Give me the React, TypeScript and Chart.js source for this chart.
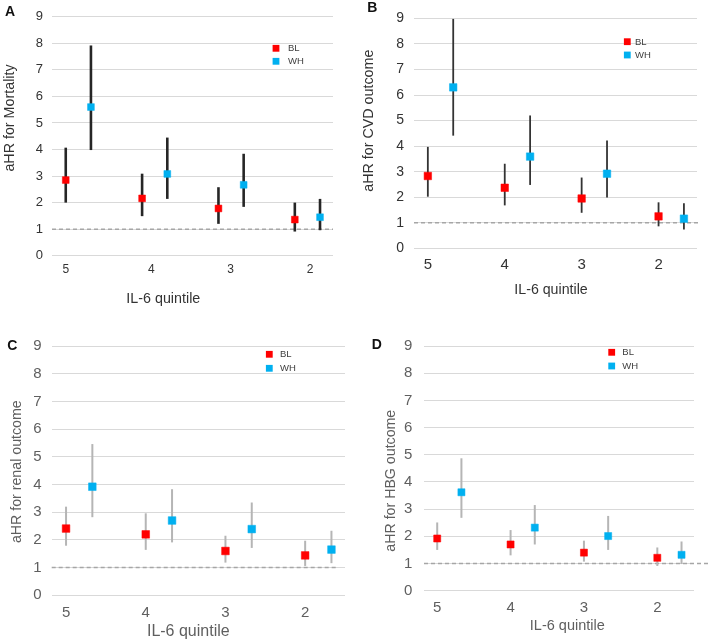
import React, { useEffect, useRef } from "react";
import { Chart, registerables } from "chart.js";

Chart.register(...registerables);

// ---------- data ----------
const quintileLabels = ["5", "4", "3", "2"];
const seriesNames = ["BL", "WH"];
const yMin = 0;
const yMax = 9;
const referenceHR = 1;
const whOffset = 0.33;

// Panel A – mortality
const mortBL = [2.85, 2.16, 1.78, 1.36];
const mortBLLow = [2.0, 1.49, 1.2, 0.91];
const mortBLHigh = [4.07, 3.09, 2.58, 2.0];
const mortWH = [5.6, 3.08, 2.67, 1.45];
const mortWHLow = [3.98, 2.14, 1.84, 0.96];
const mortWHHigh = [7.92, 4.45, 3.84, 2.14];

// Panel B – CVD outcome
const cvdBL = [2.83, 2.37, 1.95, 1.25];
const cvdBLLow = [2.02, 1.68, 1.39, 0.86];
const cvdBLHigh = [3.97, 3.31, 2.77, 1.8];
const cvdWH = [6.3, 3.59, 2.92, 1.16];
const cvdWHLow = [4.41, 2.48, 1.99, 0.74];
const cvdWHHigh = [8.98, 5.2, 4.22, 1.76];

// Panel C – renal outcome
const renalBL = [2.41, 2.2, 1.6, 1.44];
const renalBLLow = [1.79, 1.64, 1.18, 1.06];
const renalBLHigh = [3.2, 2.96, 2.15, 1.97];
const renalWH = [3.92, 2.7, 2.39, 1.65];
const renalWHLow = [2.82, 1.91, 1.71, 1.16];
const renalWHHigh = [5.46, 3.83, 3.35, 2.33];

// Panel D – HBG outcome
const hbgBL = [1.92, 1.7, 1.4, 1.21];
const hbgBLLow = [1.5, 1.3, 1.07, 0.91];
const hbgBLHigh = [2.51, 2.23, 1.84, 1.59];
const hbgWH = [3.62, 2.32, 2.01, 1.32];
const hbgWHLow = [2.68, 1.7, 1.5, 0.98];
const hbgWHHigh = [4.87, 3.15, 2.75, 1.81];

// tick positions of the quintile labels (category units)
const tickPosA = [0, 1.12, 2.16, 3.2];
const tickPosStd = [0, 1, 2, 3];

// ---------- styling / layout ----------
const RED = "#ff0000";
const BLUE = "#00b0f0";
const FONT = "'Liberation Sans', Arial, Helvetica, sans-serif";

type PanelCfg = {
  letter: string;
  yTitle: string;
  bl: number[]; blLow: number[]; blHigh: number[];
  wh: number[]; whLow: number[]; whHigh: number[];
  tickPos: number[];
  x: number; y: number; w: number; h: number;
  area: { l: number; r: number; t: number; b: number };
  refEnd: number;
  markR: number;
  errColor: string; errWidth: number;
  textColor: string;
  yTickSize: number; yTickPad: number;
  xTickSize: number; xTickPad: number;
  yTitlePos: [number, number]; yTitleSize: number;
  xTitlePos: [number, number]; xTitleSize: number;
  letterPos: [number, number];
  legend: { x: number; y1: number; y2: number; tx: number };
};

const panels: PanelCfg[] = [
  {
    letter: "A", yTitle: "aHR for Mortality",
    bl: mortBL, blLow: mortBLLow, blHigh: mortBLHigh,
    wh: mortWH, whLow: mortWHLow, whHigh: mortWHHigh,
    tickPos: tickPosA,
    x: 0, y: 0, w: 354, h: 320,
    area: { l: 52, r: 333, t: 9.3, b: 255.7 },
    refEnd: 333, markR: 4.8,
    errColor: "#262626", errWidth: 2.6,
    textColor: "#333333",
    yTickSize: 13, yTickPad: 9, xTickSize: 12, xTickPad: 6.8,
    yTitlePos: [10, 118], yTitleSize: 14.3,
    xTitlePos: [163.3, 299], xTitleSize: 14.3,
    letterPos: [10, 11.7],
    legend: { x: 276, y1: 48.3, y2: 61.3, tx: 288 },
  },
  {
    letter: "B", yTitle: "aHR for CVD outcome",
    bl: cvdBL, blLow: cvdBLLow, blHigh: cvdBLHigh,
    wh: cvdWH, whLow: cvdWHLow, whHigh: cvdWHHigh,
    tickPos: tickPosStd,
    x: 354, y: 0, w: 355, h: 320,
    area: { l: 60, r: 343, t: 10, b: 248.3 },
    refEnd: 347, markR: 5.3,
    errColor: "#333333", errWidth: 1.8,
    textColor: "#333333",
    yTickSize: 14, yTickPad: 10, xTickSize: 15, xTickPad: 8,
    yTitlePos: [15, 120.7], yTitleSize: 14.3,
    xTitlePos: [197, 290], xTitleSize: 14.2,
    letterPos: [18.3, 8.3],
    legend: { x: 273.3, y1: 41.7, y2: 55, tx: 281 },
  },
  {
    letter: "C", yTitle: "aHR for renal outcome",
    bl: renalBL, blLow: renalBLLow, blHigh: renalBLHigh,
    wh: renalWH, whLow: renalWHLow, whHigh: renalWHHigh,
    tickPos: tickPosStd,
    x: 0, y: 320, w: 354, h: 320,
    area: { l: 51.7, r: 345, t: 26, b: 275.3 },
    refEnd: 338, markR: 5.4,
    errColor: "#b5b5b5", errWidth: 2,
    textColor: "#5f5f5f",
    yTickSize: 15, yTickPad: 10, xTickSize: 15, xTickPad: 9,
    yTitlePos: [16.7, 151.7], yTitleSize: 14.2,
    xTitlePos: [188.3, 311.7], xTitleSize: 16,
    letterPos: [12.3, 26],
    legend: { x: 269.3, y1: 34.3, y2: 48.3, tx: 280 },
  },
  {
    letter: "D", yTitle: "aHR for HBG outcome",
    bl: hbgBL, blLow: hbgBLLow, blHigh: hbgBLHigh,
    wh: hbgWH, whLow: hbgWHLow, whHigh: hbgWHHigh,
    tickPos: tickPosStd,
    x: 354, y: 320, w: 355, h: 320,
    area: { l: 70, r: 340, t: 26, b: 270.7 },
    refEnd: 355, markR: 5,
    errColor: "#b5b5b5", errWidth: 2,
    textColor: "#5f5f5f",
    yTickSize: 15, yTickPad: 11.7, xTickSize: 15, xTickPad: 8.6,
    yTitlePos: [36.7, 160.7], yTitleSize: 14.2,
    xTitlePos: [213.3, 306], xTitleSize: 14.5,
    letterPos: [22.7, 25],
    legend: { x: 257.7, y1: 32.3, y2: 46, tx: 268.3 },
  },
];

function Panel({ cfg }: { cfg: PanelCfg }) {
  const ref = useRef<HTMLCanvasElement>(null);

  useEffect(() => {
    const canvas = ref.current;
    if (!canvas) return;

    const pts = (vals: number[], off: number) => vals.map((v, i) => ({ x: i + off, y: v }));
    const lows = [cfg.blLow, cfg.whLow];
    const highs = [cfg.blHigh, cfg.whHigh];

    const overlay = {
      id: "overlay" + cfg.letter,
      beforeDatasetsDraw(chart: any) {
        const ctx = chart.ctx;
        const xs = chart.scales.x;
        const ys = chart.scales.y;
        ctx.save();
        // reference line at HR = 1
        ctx.strokeStyle = "#a6a6a6";
        ctx.lineWidth = 1.5;
        ctx.setLineDash([4, 3]);
        const yr = ys.getPixelForValue(referenceHR);
        ctx.beginPath();
        ctx.moveTo(chart.chartArea.left, yr);
        ctx.lineTo(cfg.refEnd, yr);
        ctx.stroke();
        ctx.setLineDash([]);
        // error bars
        ctx.strokeStyle = cfg.errColor;
        ctx.lineWidth = cfg.errWidth;
        chart.data.datasets.forEach((ds: any, di: number) => {
          ds.data.forEach((p: any, i: number) => {
            const px = xs.getPixelForValue(p.x);
            ctx.beginPath();
            ctx.moveTo(px, ys.getPixelForValue(lows[di][i]));
            ctx.lineTo(px, ys.getPixelForValue(highs[di][i]));
            ctx.stroke();
          });
        });
        ctx.restore();
      },
      afterDraw(chart: any) {
        const ctx = chart.ctx;
        ctx.save();
        ctx.fillStyle = cfg.textColor;
        ctx.textAlign = "center";
        ctx.textBaseline = "middle";
        // x-axis title
        ctx.font = `${cfg.xTitleSize}px ${FONT}`;
        ctx.fillText("IL-6 quintile", cfg.xTitlePos[0], cfg.xTitlePos[1]);
        // y-axis title
        ctx.save();
        ctx.translate(cfg.yTitlePos[0], cfg.yTitlePos[1]);
        ctx.rotate(-Math.PI / 2);
        ctx.font = `${cfg.yTitleSize}px ${FONT}`;
        ctx.fillText(cfg.yTitle, 0, 0);
        ctx.restore();
        // panel letter
        ctx.fillStyle = "#111111";
        ctx.font = `bold 14px ${FONT}`;
        ctx.fillText(cfg.letter, cfg.letterPos[0], cfg.letterPos[1]);
        // legend
        const lg = cfg.legend;
        const ys = [lg.y1, lg.y2];
        chart.data.datasets.forEach((ds: any, di: number) => {
          ctx.fillStyle = ds.backgroundColor;
          ctx.fillRect(lg.x - 3.4, ys[di] - 3.4, 6.8, 6.8);
          ctx.fillStyle = "#404040";
          ctx.textAlign = "left";
          ctx.font = `9.5px ${FONT}`;
          ctx.fillText(ds.label, lg.tx, ys[di] + 0.5);
        });
        ctx.restore();
      },
    };

    const chart = new Chart(canvas, {
      type: "scatter",
      data: {
        datasets: [
          {
            label: seriesNames[0],
            data: pts(cfg.bl, 0),
            backgroundColor: RED,
            borderColor: RED,
            pointStyle: "rect",
            pointRadius: cfg.markR,
            pointBorderWidth: 0.5,
          },
          {
            label: seriesNames[1],
            data: pts(cfg.wh, whOffset),
            backgroundColor: BLUE,
            borderColor: BLUE,
            pointStyle: "rect",
            pointRadius: cfg.markR,
            pointBorderWidth: 0.5,
          },
        ],
      },
      options: {
        animation: false,
        responsive: false,
        maintainAspectRatio: false,
        events: [],
        clip: false as any,
        layout: {
          padding: { left: 0, top: cfg.area.t, right: cfg.w - cfg.area.r, bottom: 0 },
        },
        plugins: { legend: { display: false }, tooltip: { enabled: false } },
        scales: {
          x: {
            type: "linear",
            min: -0.18,
            max: 3.5,
            grid: { display: false, drawTicks: false },
            border: { display: false },
            afterBuildTicks: (s: any) => {
              s.ticks = cfg.tickPos.map((v) => ({ value: v }));
            },
            afterFit: (s: any) => {
              s.height = cfg.h - cfg.area.b;
            },
            ticks: {
              autoSkip: false,
              maxRotation: 0,
              padding: cfg.xTickPad,
              color: cfg.textColor,
              font: { family: FONT, size: cfg.xTickSize },
              callback: (_v: any, i: number) => quintileLabels[i],
            },
          },
          y: {
            min: yMin,
            max: yMax,
            grid: { color: "#d9d9d9", lineWidth: 1, drawTicks: false },
            border: { display: false },
            afterFit: (s: any) => {
              s.width = cfg.area.l;
            },
            ticks: {
              stepSize: 1,
              padding: cfg.yTickPad,
              color: cfg.textColor,
              font: { family: FONT, size: cfg.yTickSize },
            },
          },
        },
      },
      plugins: [overlay],
    });

    return () => chart.destroy();
  }, [cfg]);

  return (
    <canvas
      ref={ref}
      width={cfg.w}
      height={cfg.h}
      style={{ position: "absolute", left: cfg.x, top: cfg.y, width: cfg.w, height: cfg.h }}
    />
  );
}

export default function App() {
  return (
    <div style={{ position: "absolute", left: 0, top: 0, width: 709, height: 640, background: "#ffffff" }}>
      {panels.map((p) => (
        <Panel key={p.letter} cfg={p} />
      ))}
    </div>
  );
}
